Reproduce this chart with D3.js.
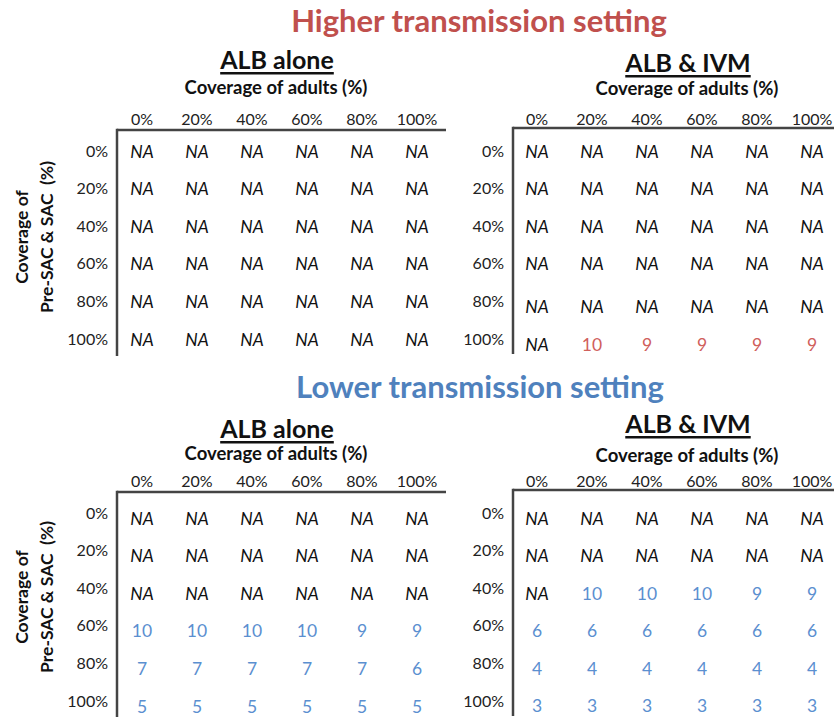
<!DOCTYPE html>
<html><head><meta charset="utf-8">
<script src="https://cdn.jsdelivr.net/npm/d3@7"></script>
<style>
body{margin:0;background:#fff;}
svg{display:block;font-family:Lato, "Open Sans", sans-serif;}
text{white-space:pre;}
</style></head>
<body><svg id="c" width="834" height="717"></svg>
<script>
// ---- data ----
const columns = ["0%","20%","40%","60%","80%","100%"];
const rows = ["0%","20%","40%","60%","80%","100%"];
const settings = ["Higher transmission setting","Lower transmission setting"];
const treatments = ["ALB alone","ALB & IVM"];
const xTitle = "Coverage of adults (%)";
const yTitleLines = ["Coverage of","Pre-SAC & SAC  (%)"];
// null = NA
const higherALB = [
  [null,null,null,null,null,null],
  [null,null,null,null,null,null],
  [null,null,null,null,null,null],
  [null,null,null,null,null,null],
  [null,null,null,null,null,null],
  [null,null,null,null,null,null]
];
const higherIVM = [
  [null,null,null,null,null,null],
  [null,null,null,null,null,null],
  [null,null,null,null,null,null],
  [null,null,null,null,null,null],
  [null,null,null,null,null,null],
  [null,10,9,9,9,9]
];
const lowerALB = [
  [null,null,null,null,null,null],
  [null,null,null,null,null,null],
  [null,null,null,null,null,null],
  [10,10,10,10,9,9],
  [7,7,7,7,7,6],
  [5,5,5,5,5,5]
];
const lowerIVM = [
  [null,null,null,null,null,null],
  [null,null,null,null,null,null],
  [null,10,10,10,9,9],
  [6,6,6,6,6,6],
  [4,4,4,4,4,4],
  [3,3,3,3,3,3]
];
const settingColors = ["#c0504d","#4f81bd"];
const valueColors = ["#d0605c","#5b8fd0"];

// ---- layout ----
const svg = d3.select("#c");
const panels = [
  {data:higherALB, s:0, t:0, axisX:117, axisY:130, xr:[142,417], yr:[150,338], right:446, cx:276, titleY:59, subY:87, headY:118, valOff:[1,1,1,1,1,1], yTitleC:237},
  {data:higherIVM, s:0, t:1, axisX:513, axisY:128, xr:[537,812], yr:[150,338], right:834, cx:687, titleY:62, subY:88, headY:118, valOff:[1,1,1,1,6,6], yTitleC:null},
  {data:lowerALB, s:1, t:0, axisX:117, axisY:492, xr:[142,417], yr:[512,700], right:446, cx:276, titleY:428, subY:453, headY:480, valOff:[6,6,6,6,6,6], yTitleC:597},
  {data:lowerIVM, s:1, t:1, axisX:513, axisY:490, xr:[537,812], yr:[512,700], right:834, cx:687, titleY:423, subY:455, headY:480, valOff:[6,6,6,6,6,5], yTitleC:null}
];
const settingTitleY = [20, 386];
const settingTitleX = [479, 480];

settings.forEach((s,i)=>{
  svg.append("text").attr("x",settingTitleX[i]).attr("y",settingTitleY[i])
    .attr("text-anchor","middle").attr("dominant-baseline","central")
    .attr("font-size",31).attr("font-weight","bold").attr("fill",settingColors[i]).text(s);
});

panels.forEach(p=>{
  const x = d3.scalePoint().domain(columns).range(p.xr);
  const y = d3.scalePoint().domain(rows).range(p.yr);
  const g = svg.append("g");
  g.append("text").attr("x",p.cx+1).attr("y",p.titleY).attr("text-anchor","middle")
    .attr("dominant-baseline","central").attr("font-size",25).attr("font-weight","bold")
    .attr("text-decoration","underline").attr("fill","#111").text(treatments[p.t]);
  g.append("text").attr("x",p.cx).attr("y",p.subY).attr("text-anchor","middle")
    .attr("dominant-baseline","central").attr("font-size",18.5).attr("font-weight","bold")
    .attr("fill","#111").text(xTitle);
  // column headers
  g.selectAll("text.col").data(columns).join("text").attr("class","col")
    .attr("x",d=>x(d)).attr("y",p.headY).attr("text-anchor","middle")
    .attr("dominant-baseline","central").attr("font-size",16).attr("fill","#222").text(d=>d);
  // row labels
  g.selectAll("text.row").data(rows).join("text").attr("class","row")
    .attr("x",p.axisX-9).attr("y",d=>y(d)).attr("text-anchor","end")
    .attr("dominant-baseline","central").attr("font-size",16).attr("fill","#222").text(d=>d);
  // axis lines
  g.append("line").attr("x1",p.axisX).attr("x2",p.right).attr("y1",p.axisY).attr("y2",p.axisY)
    .attr("stroke","#444").attr("stroke-width",2.5);
  g.append("line").attr("x1",p.axisX).attr("x2",p.axisX).attr("y1",p.axisY-1.25).attr("y2",p.axisY+226)
    .attr("stroke","#444").attr("stroke-width",2.5);
  // cells
  const cells = [];
  p.data.forEach((r,ri)=>r.forEach((v,ci)=>cells.push({r:rows[ri],ri,c:columns[ci],v})));
  g.selectAll("text.cell").data(cells).join("text").attr("class","cell")
    .attr("x",d=>x(d.c)).attr("y",d=>y(d.r)+p.valOff[d.ri]).attr("text-anchor","middle")
    .attr("dominant-baseline","central").attr("font-size",17.5)
    .attr("font-style",d=>d.v==null?"italic":"normal")
    .attr("fill",d=>d.v==null?"#111":valueColors[p.s])
    .text(d=>d.v==null?"NA":d.v);
  if(p.yTitleC!=null){
    const yt = g.append("text").attr("transform",`translate(33,${p.yTitleC}) rotate(-90)`)
      .attr("text-anchor","middle").attr("font-size",17.5).attr("font-weight","bold").attr("fill","#111");
    yt.selectAll("tspan").data(yTitleLines).join("tspan").attr("x",0)
      .attr("dy",(d,i)=>i==0?"-0.3em":"1.45em").text(d=>d);
  }
});
</script></body></html>
